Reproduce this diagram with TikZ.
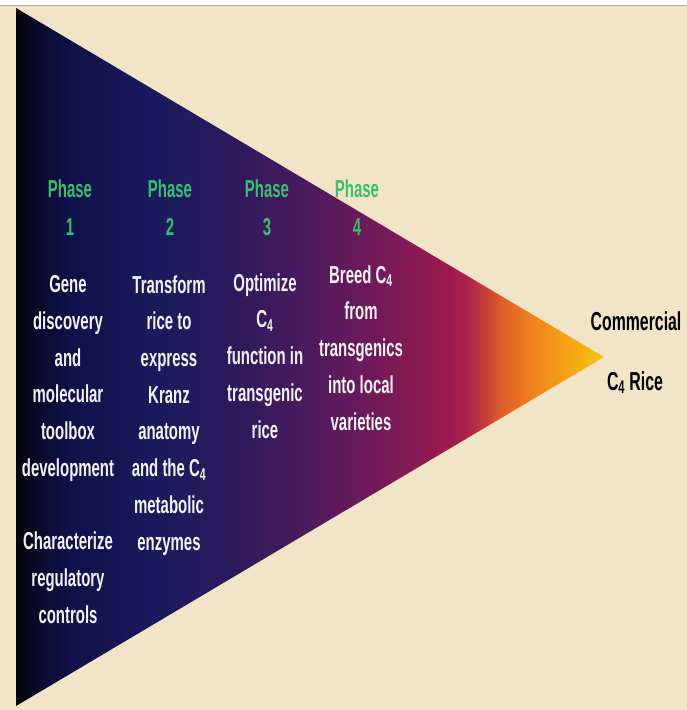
\documentclass[tikz,border=0pt]{standalone}
\usepackage{fontspec}
\setmainfont{Liberation Sans}[FakeStretch=0.61]
\definecolor{bg}{RGB}{242,228,199}
\definecolor{phgreen}{RGB}{58,190,112}
\definecolor{wtext}{RGB}{242,242,242}
\definecolor{g0}{HTML}{040408}
\definecolor{g1}{HTML}{0A0A28}
\definecolor{g2}{HTML}{10104A}
\definecolor{g3}{HTML}{1A1A5C}
\definecolor{g4}{HTML}{2A1A5C}
\definecolor{g5}{HTML}{481A5E}
\definecolor{g6}{HTML}{741A58}
\definecolor{g7}{HTML}{961A50}
\definecolor{g8}{HTML}{A81E4C}
\definecolor{g9}{HTML}{C43C38}
\definecolor{g10}{HTML}{E06228}
\definecolor{g11}{HTML}{F08420}
\definecolor{g12}{HTML}{F5A018}
\definecolor{g13}{HTML}{F8C412}
\pgfdeclarehorizontalshading{trishade}{100bp}{%
  color(0bp)=(g0); color(25bp)=(g0); color(26.61bp)=(g1); color(29.58bp)=(g2);
  color(36.38bp)=(g3); color(43.17bp)=(g4); color(49.11bp)=(g5); color(55.9bp)=(g6);
  color(61bp)=(g7); color(63.12bp)=(g8); color(64.81bp)=(g9); color(66.51bp)=(g10);
  color(69.06bp)=(g11); color(71.6bp)=(g12); color(75bp)=(g13); color(100bp)=(g13)}
\tikzset{
  txt/.style={font=\fontsize{24.5}{36.7}\selectfont\bfseries, align=center, inner sep=0pt, anchor=base},
  wt/.style={txt, text=wtext},
  ph/.style={txt, text=phgreen, font=\fontsize{24.5}{38}\selectfont\bfseries},
  bk/.style={txt, text=black, font=\fontsize{26}{30}\selectfont\bfseries}
}
\newcommand{\cfour}{C\textsubscript{4}}
\begin{document}
\begin{tikzpicture}[x=1pt,y=-1pt]
\useasboundingbox (0,0) rectangle (687,710);
\fill[bg] (0,0) rectangle (687,710);
\fill[white] (0,0) rectangle (687,5);
\draw[gray!70, line width=1.2pt] (0,5.5) -- (687,5.5);
\path[shading=trishade] (16,8) -- (604,357) -- (16,706) -- cycle;
% phases (base anchor = last line baseline)
\node[ph] (p1) at (70,235) {Phase\\1};
\node[ph] (p2) at (170,235) {Phase\\2};
\node[ph] (p3) at (267,235) {Phase\\3};
\node[ph] (p4) at (357,235) {Phase\\4};
% columns
\node[wt] (c1) at (68,623) {Gene\\discovery\\and\\molecular\\toolbox\\development\\[36.7pt]Characterize\\regulatory\\controls};
\node[wt] (c2) at (169,550) {Transform\\rice to\\express\\Kranz\\anatomy\\and the \cfour\\metabolic\\enzymes};
\node[wt] (c3) at (265,438) {Optimize\\\cfour\\function in\\transgenic\\rice};
\node[wt] (c4) at (361,430) {Breed \cfour\\from\\transgenics\\into local\\varieties};
\node[bk] (com) at (636,330) {Commercial};
\node[bk] (rice) at (635,390) {\cfour\,Rice};
\end{tikzpicture}
\end{document}
